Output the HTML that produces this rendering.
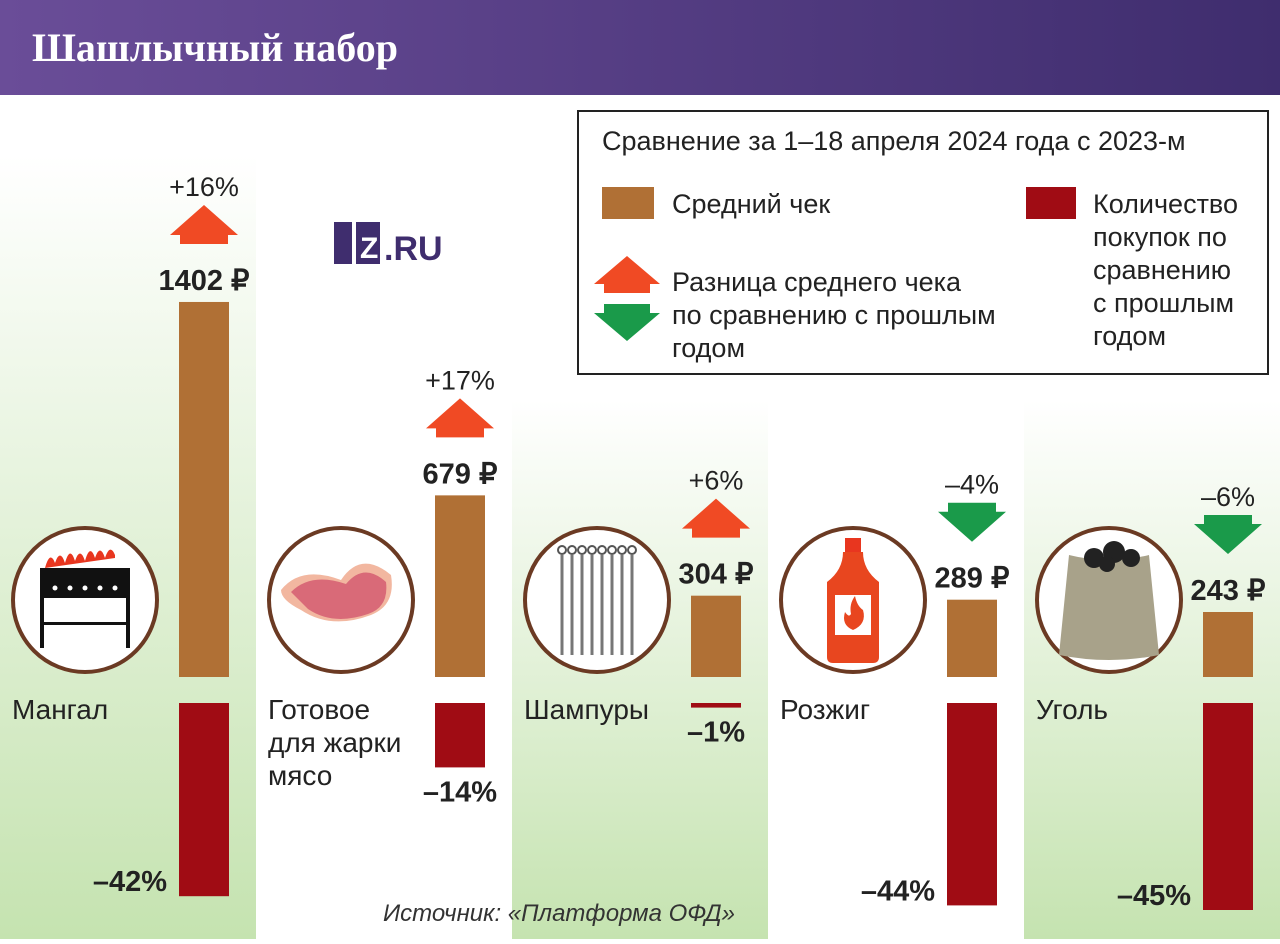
<!DOCTYPE html>
<html><head><meta charset="utf-8">
<style>
body{margin:0;width:1280px;height:939px;overflow:hidden;background:#fff;font-family:"Liberation Sans Narrow","Liberation Sans",sans-serif;}
svg text{font-family:"Liberation Sans Narrow","Liberation Sans",sans-serif;}
</style></head><body>
<svg id="c" width="1280" height="939" xmlns="http://www.w3.org/2000/svg">
<defs>
<linearGradient id="hdr" x1="0" x2="1" y1="0" y2="0"><stop offset="0" stop-color="#6a4d98"/><stop offset="1" stop-color="#3f2d6e"/></linearGradient>
<linearGradient id="grn" x1="0" x2="0" y1="0" y2="1"><stop offset="0" stop-color="#fff"/><stop offset="1" stop-color="#c5e3b0"/></linearGradient>
</defs>
<rect x="0" y="0" width="1280" height="95" fill="url(#hdr)"/>
<text x="32" y="61" fill="#fff" font-weight="bold" font-size="40" style="font-family:'Liberation Serif',serif">Шашлычный набор</text>
<g id="bgs"></g>
<g>
<rect x="578" y="111" width="690" height="263" fill="#fff" stroke="#222" stroke-width="2"/>
<text x="602" y="150" font-size="27" fill="#222">Сравнение за 1–18 апреля 2024 года с 2023-м</text>
<rect x="602" y="187" width="52" height="32" fill="#b07035"/>
<text x="672" y="213" font-size="27" fill="#222">Средний чек</text>
<rect x="1026" y="187" width="50" height="32" fill="#a00c14"/>
<text font-size="27" fill="#222"><tspan x="1093" y="213">Количество</tspan><tspan x="1093" y="246">покупок по</tspan><tspan x="1093" y="279">сравнению</tspan><tspan x="1093" y="312">с прошлым</tspan><tspan x="1093" y="345">годом</tspan></text>
<path d="M594 284 L627 256 L660 284 L650 284 L650 293 L604 293 L604 284Z" fill="#f04a24"/>
<path d="M594 313 L627 341 L660 313 L650 313 L650 304 L604 304 L604 313Z" fill="#1a9a4a"/>
<text font-size="27" fill="#222"><tspan x="672" y="291">Разница среднего чека</tspan><tspan x="672" y="324">по сравнению с прошлым</tspan><tspan x="672" y="357">годом</tspan></text>
</g>
<g>
<rect x="334" y="222" width="18" height="42" fill="#3f2d6e"/>
<rect x="356" y="222" width="24" height="42" fill="#3f2d6e"/>
<text x="360" y="258" font-size="30" font-weight="bold" fill="#fff">Z</text>
<text x="384" y="260" font-size="34" font-weight="bold" fill="#3f2d6e" style="font-family:'Liberation Sans',sans-serif">.RU</text>
</g>
<g id="marks"></g>
<text x="383" y="921" font-size="24" font-style="italic" fill="#333">Источник: «Платформа ОФД»</text>
</svg>
<script>
const categories=["Мангал","Готовое|для жарки|мясо","Шампуры","Розжиг","Уголь"];
const avgCheck=[1402,679,304,289,243];
const checkChange=[16,17,6,-4,-6];
const purchaseChange=[-42,-14,-1,-44,-45];
const NS="http://www.w3.org/2000/svg";
const base=677, base2=703;
const yAvg=v=>base-v*0.2675;
const yCnt=v=>base2+(-v)*4.6;
function mk(tag,attrs,parent){const e=document.createElementNS(NS,tag);for(const k in attrs)e.setAttribute(k,attrs[k]);parent.appendChild(e);return e;}
const bgs=document.getElementById('bgs'), g=document.getElementById('marks');
const bgTop=[155,null,400,null,400];
bgTop.forEach((t,i)=>{if(t===null)return;const r=mk('rect',{x:i*256,y:t,width:256,height:939-t,fill:'url(#grn)'},bgs);

});
const icons=[
 '<rect x="-45" y="-32" width="90" height="30" fill="#111"/><path d="M-40 -32 q5 -18 10 -5 q5 -15 10 0 q5 -18 10 -2 q5 -15 10 0 q5 -18 10 -3 q5 -15 10 0 q5 -15 10 -3 l0 3z" fill="#e8361f"/><rect x="-45" y="-2" width="4" height="50" fill="#111"/><rect x="41" y="-2" width="4" height="50" fill="#111"/><rect x="-45" y="22" width="90" height="3" fill="#111"/><g fill="#fff"><circle cx="-30" cy="-12" r="2.5"/><circle cx="-15" cy="-12" r="2.5"/><circle cx="0" cy="-12" r="2.5"/><circle cx="15" cy="-12" r="2.5"/><circle cx="30" cy="-12" r="2.5"/></g>',
 '<path d="M-60 -10 q20 -25 60 -10 q20 -30 50 -5 q5 30 -20 40 q-40 15 -70 -5 q-20 -10 -20 -20z" fill="#f2b7a0"/><path d="M-50 -8 q20 -20 55 -8 q18 -22 40 -2 q3 25 -18 32 q-35 12 -60 -5z" fill="#d96a78"/>',
 '<g stroke="#777" stroke-width="3">'+[...Array(8)].map((_,k)=>`<line x1="${-35+k*10}" y1="-45" x2="${-35+k*10}" y2="55"/>`).join('')+'</g><g fill="none" stroke="#555" stroke-width="2">'+[...Array(8)].map((_,k)=>`<circle cx="${-35+k*10}" cy="-50" r="4"/>`).join('')+'</g>',
 '<rect x="-8" y="-62" width="16" height="14" fill="#e8361f"/><path d="M-10 -48 h20 q0 18 16 30 v75 q0 6 -6 6 h-40 q-6 0 -6 -6 v-75 q16 -12 16 -30z" fill="#e8461f"/><rect x="-18" y="-5" width="36" height="40" fill="#fff"/><path d="M0 30 q-12 -5 -8 -18 q4 6 6 2 q-2 -10 4 -18 q2 10 8 14 q4 14 -10 20z" fill="#e8461f"/>',
 '<path d="M-40 -45 q40 10 80 0 l10 100 q-50 10 -100 0z" fill="#a8a28a"/><g fill="#222"><circle cx="-15" cy="-42" r="10"/><circle cx="5" cy="-48" r="11"/><circle cx="22" cy="-42" r="9"/><circle cx="-2" cy="-36" r="8"/></g>'
];
categories.forEach((c,i)=>{
 const x0=i*256, bx=x0+179, bw=50, cx=bx+bw/2;
 const ci=mk('g',{transform:`translate(${x0+85},600)`},g);
 
 
 ci.innerHTML=`<circle r="72" fill="#fff" stroke="#6b3a23" stroke-width="4"/>`+icons[i];
 const lt=mk('text',{x:x0+12,'font-size':28,fill:'#222'},g);
 
 
 c.split('|').forEach((s,k)=>{const ts=mk('tspan',{x:x0+12,y:719+k*33},lt);ts.textContent=s;});
 const top=yAvg(avgCheck[i]);
 const b=mk('rect',{x:bx,y:top,width:bw,height:base-top,fill:'#b07035'},g);
 
 
 const vl=mk('text',{x:cx,y:top-12,'text-anchor':'middle','font-size':29,'font-weight':'bold',fill:'#222'},g);
 
 
 vl.textContent=avgCheck[i]+' ₽';
 const up=checkChange[i]>=0, at=top-97;
 const a=mk('path',{d:up?`M${cx-34} ${at+30} L${cx} ${at} L${cx+34} ${at+30} L${cx+24} ${at+30} L${cx+24} ${at+39} L${cx-24} ${at+39} L${cx-24} ${at+30}Z`:`M${cx-34} ${at+9} L${cx} ${at+39} L${cx+34} ${at+9} L${cx+24} ${at+9} L${cx+24} ${at} L${cx-24} ${at} L${cx-24} ${at+9}Z`,fill:up?'#f04a24':'#1a9a4a'},g);
 
 
 const pl=mk('text',{x:cx,y:at-9,'text-anchor':'middle','font-size':27,fill:'#222'},g);
 
 
 pl.textContent=(up?'+':'–')+Math.abs(checkChange[i])+'%';
 const bot=Math.max(yCnt(purchaseChange[i]),base2+4);
 const r=mk('rect',{x:bx,y:base2,width:bw,height:bot-base2,fill:'#a00c14'},g);
 
 
 const big=purchaseChange[i]<-20;
 const rl=mk('text',{x:big?bx-12:cx,y:big?bot-5:bot+34,'text-anchor':big?'end':'middle','font-size':29,'font-weight':'bold',fill:'#222'},g);
 
 
 rl.textContent='–'+Math.abs(purchaseChange[i])+'%';
});
</script>
</body></html>
